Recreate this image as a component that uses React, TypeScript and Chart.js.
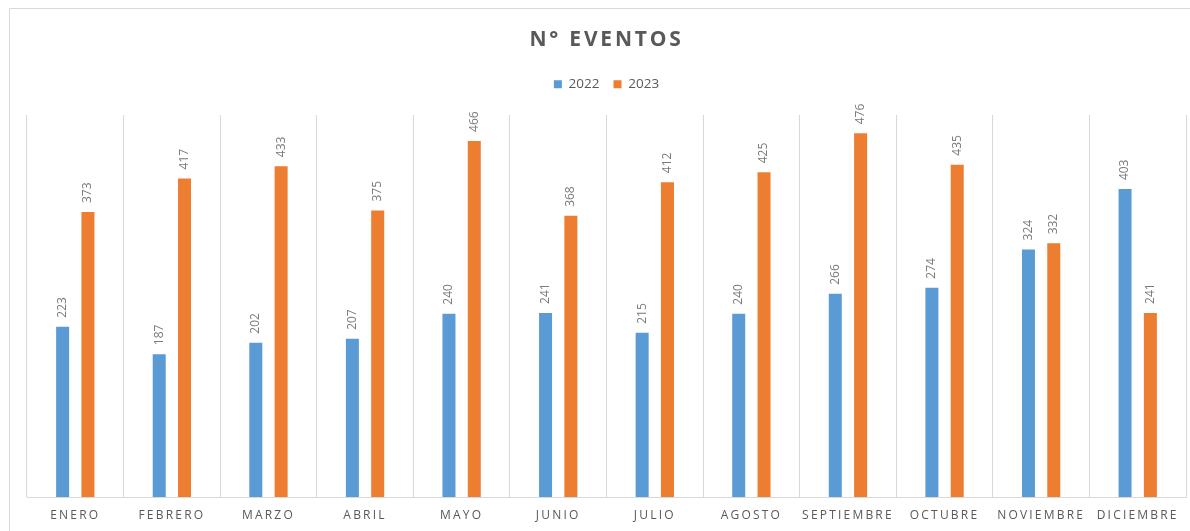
import React, { useEffect, useRef } from 'react';
import { Chart, registerables } from 'chart.js';

Chart.register(...registerables);

const chartTitle = 'N° EVENTOS';
const categories = [
  'ENERO', 'FEBRERO', 'MARZO', 'ABRIL', 'MAYO', 'JUNIO',
  'JULIO', 'AGOSTO', 'SEPTIEMBRE', 'OCTUBRE', 'NOVIEMBRE', 'DICIEMBRE',
];
const seriesNames = ['2022', '2023'];
const values2022 = [223, 187, 202, 207, 240, 241, 215, 240, 266, 274, 324, 403];
const values2023 = [373, 417, 433, 375, 466, 368, 412, 425, 476, 435, 332, 241];
const yMin = 0;
const yMax = 500;

const BLUE = '#5B9BD5';
const ORANGE = '#ED7D31';
const TEXT = '#595959';
const LABEL = '#7a7a7a';
const GRID = '#d9d9d9';
const FONT = '"Open Sans", "DejaVu Sans", sans-serif';

const backgroundPlugin = {
  id: 'bgFrame',
  beforeDraw(chart: any) {
    const { ctx, width, height } = chart;
    ctx.save();
    ctx.fillStyle = '#ffffff';
    ctx.fillRect(0, 0, width, height);
    ctx.strokeStyle = GRID;
    ctx.lineWidth = 1;
    ctx.beginPath();
    ctx.moveTo(9.5, height);
    ctx.lineTo(9.5, 8.5);
    ctx.lineTo(width, 8.5);
    ctx.stroke();
    ctx.restore();
  },
};

const spacingPlugin = {
  id: 'letterSpacing',
  afterLayout(chart: any) {
    const patch = (obj: any, method: string, spacing: string) => {
      if (!obj || obj['__patched_' + method]) return;
      const orig = obj[method];
      obj[method] = function (...args: any[]) {
        const ctx = chart.ctx;
        const prev = ctx.letterSpacing;
        ctx.letterSpacing = spacing;
        orig.apply(this, args);
        ctx.letterSpacing = prev || '0px';
      };
      obj['__patched_' + method] = true;
    };
    patch(chart.titleBlock, 'draw', '2.8px');
    patch(chart.scales.x, 'drawLabels', '2.2px');
  },
};

const legendSpacePlugin = {
  id: 'legendSpace',
  beforeInit(chart: any) {
    const legend = chart.legend;
    if (!legend) return;
    const origFit = legend.fit;
    legend.fit = function () {
      origFit.call(this);
      this.height = 51.4;
    };
  },
};

const dataLabelPlugin = {
  id: 'barValueLabels',
  afterDatasetsDraw(chart: any) {
    const ctx = chart.ctx;
    ctx.save();
    ctx.font = `12px ${FONT}`;
    ctx.fillStyle = LABEL;
    ctx.textAlign = 'left';
    ctx.textBaseline = 'middle';
    chart.data.datasets.forEach((ds: any, i: number) => {
      const meta = chart.getDatasetMeta(i);
      meta.data.forEach((bar: any, j: number) => {
        ctx.save();
        ctx.translate(bar.x, bar.y - 9);
        ctx.rotate(-Math.PI / 2);
        ctx.fillText(String(ds.data[j]), 0, 0);
        ctx.restore();
      });
    });
    ctx.restore();
  },
};

export default function App() {
  const canvasRef = useRef<HTMLCanvasElement | null>(null);

  useEffect(() => {
    const canvas = canvasRef.current;
    if (!canvas) return;
    const chart = new Chart(canvas, {
      type: 'bar',
      data: {
        labels: categories,
        datasets: [
          {
            label: seriesNames[0],
            data: values2022,
            backgroundColor: BLUE,
            borderWidth: 0,
            categoryPercentage: 0.524,
            barPercentage: 0.514,
          },
          {
            label: seriesNames[1],
            data: values2023,
            backgroundColor: ORANGE,
            borderWidth: 0,
            categoryPercentage: 0.524,
            barPercentage: 0.514,
          },
        ],
      },
      options: {
        responsive: false,
        maintainAspectRatio: false,
        animation: false,
        devicePixelRatio: 1,
        layout: { padding: { top: 0, left: 27, right: 4, bottom: -2.4 } },
        plugins: {
          title: {
            display: true,
            text: chartTitle,
            color: TEXT,
            font: { family: FONT, size: 21, weight: 'bold' },
            padding: { top: 27, bottom: 11.4 },
          },
          legend: {
            display: true,
            position: 'top',
            labels: {
              color: TEXT,
              font: { family: FONT, size: 13.5 },
              boxWidth: 8,
              boxHeight: 8,
              padding: 14,
            },
          },
          tooltip: { enabled: false },
        },
        scales: {
          x: {
            grid: {
              display: true,
              color: GRID,
              lineWidth: 1,
              drawTicks: false,
              offset: true,
            },
            border: { display: true, color: GRID, width: 1 },
            ticks: {
              color: TEXT,
              font: { family: FONT, size: 12 },
              padding: 11,
              maxRotation: 0,
              autoSkip: false,
            },
          },
          y: {
            display: false,
            min: yMin,
            max: yMax,
          },
        },
      },
      plugins: [backgroundPlugin, spacingPlugin, legendSpacePlugin, dataLabelPlugin],
    });
    return () => chart.destroy();
  }, []);

  return (
    <div style={{ position: 'fixed', left: 0, top: 0, width: 1190, height: 531, background: '#fff' }}>
      <canvas ref={canvasRef} width={1190} height={531} style={{ display: 'block' }} />
    </div>
  );
}
